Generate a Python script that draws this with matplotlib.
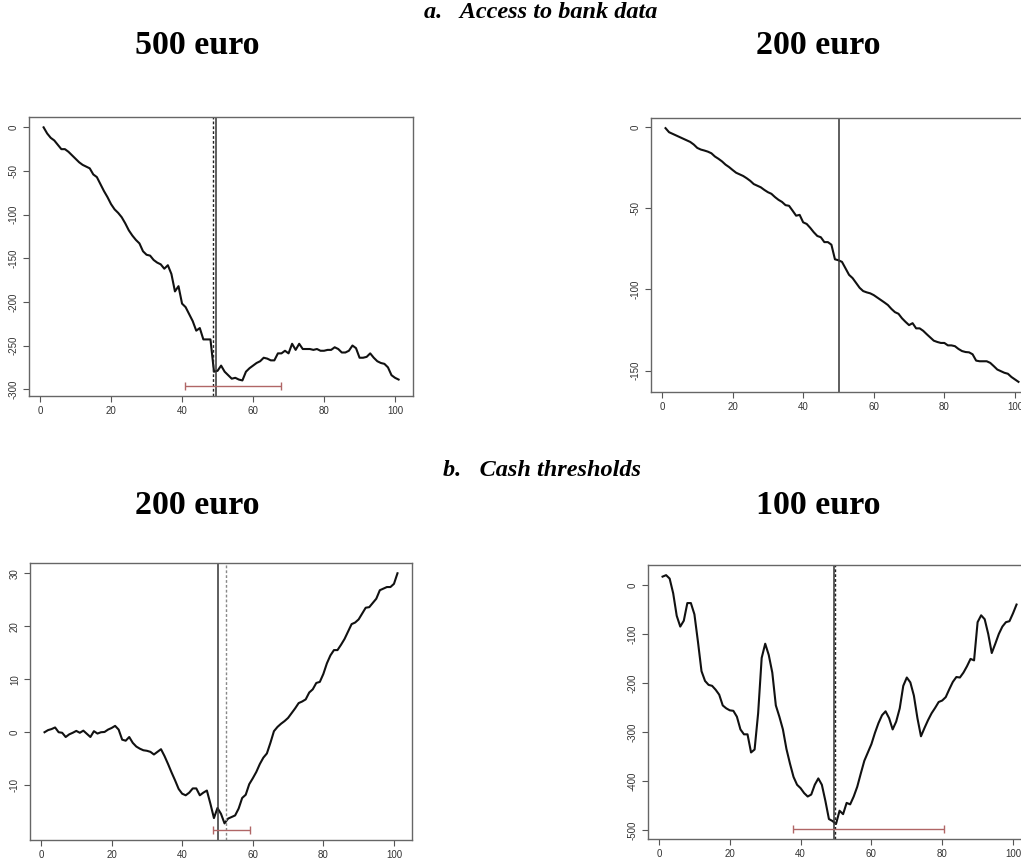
import matplotlib

matplotlib.use("Agg")
import matplotlib.pyplot as plt
import numpy as np

plt.rcParams["axes.unicode_minus"] = False

W, H = 1021, 860

# x positions are the observation index 1..101
X = np.arange(1, 102)

bank_500 = [
    0, -7, -12, -15, -20, -25, -25, -28, -32, -36,
    -40, -43, -45, -47, -54, -57, -65, -73, -80, -88,
    -94, -98, -103, -110, -118, -124, -129, -133, -142, -146,
    -147, -152, -155, -157, -162, -158, -168, -188, -182, -202,
    -206, -214, -222, -233, -230, -243, -243, -243, -280, -279,
    -273, -280, -284, -288, -287, -289, -290, -280, -276, -273,
    -270, -268, -264, -265, -267, -267, -259, -259, -256, -259,
    -248, -255, -248, -254, -254, -254, -255, -254, -256, -256,
    -255, -255, -252, -254, -258, -258, -256, -250, -253, -264,
    -264, -263, -259, -264, -268, -270, -271, -275, -284, -287,
    -289,
]

bank_200 = [
    -0.5, -3, -4, -5, -6, -7, -8, -9, -10.6, -12.7,
    -13.7, -14.3, -15, -16, -18, -19.4, -21, -23, -24.5, -26.3,
    -28, -29, -30, -31.4, -33, -35, -36, -37, -38.6, -40,
    -41, -43, -44.7, -46, -48, -48.4, -51.4, -54.5, -54, -58.6,
    -59.6, -62, -64.7, -67, -67.8, -70.8, -70.8, -72.4, -81.4, -82,
    -83, -87, -91, -93, -96, -99, -101, -101.8, -102.4, -103.5,
    -105, -106.5, -108, -109.6, -112, -114, -115, -117.8, -120, -122,
    -120.8, -124, -124, -125.5, -127.6, -129.6, -131.6, -132.4, -133, -133,
    -134.5, -134.5, -135, -136.7, -138, -138.6, -138.8, -140, -143.9, -144.3,
    -144.3, -144.3, -145.3, -147.3, -149.4, -150.4, -151.4, -152, -154, -155.5,
    -157,
]

cash_200 = [
    0, 0.4, 0.6, 0.9, 0, -0.1, -0.9, -0.4, -0.1, 0.25,
    -0.1, 0.3, -0.3, -0.9, 0.2, -0.25, 0, 0.05, 0.5, 0.8,
    1.2, 0.5, -1.4, -1.6, -0.9, -2, -2.7, -3.1, -3.4, -3.5,
    -3.7, -4.2, -3.7, -3.2, -4.5, -6, -7.6, -9.1, -10.7, -11.6,
    -11.9, -11.4, -10.6, -10.6, -11.9, -11.4, -11, -13.5, -16.2, -14.3,
    -15.4, -17.2, -16.3, -16, -15.7, -14.4, -12.4, -11.8, -9.8, -8.7,
    -7.5, -6, -4.8, -4, -2, 0.2, 1, 1.6, 2.1, 2.7,
    3.6, 4.5, 5.5, 5.8, 6.2, 7.5, 8.1, 9.3, 9.5, 11,
    13, 14.5, 15.5, 15.5, 16.5, 17.6, 19, 20.4, 20.7, 21.3,
    22.4, 23.5, 23.6, 24.4, 25.2, 26.8, 27.1, 27.4, 27.4, 28,
    30,
]

cash_100 = [
    17, 20, 13, -17, -63, -85, -73, -37, -37, -60,
    -116, -176, -196, -204, -206, -214, -224, -246, -252, -256,
    -257, -269, -295, -305, -305, -342, -336, -262, -149, -120,
    -143, -179, -246, -269, -295, -335, -365, -392, -408, -415,
    -425, -432, -428, -408, -395, -408, -441, -478, -482, -488,
    -461, -468, -445, -448, -432, -412, -385, -359, -342, -325,
    -302, -282, -266, -258, -272, -295, -279, -252, -206, -189,
    -199, -226, -272, -309, -292, -276, -262, -251, -239, -236,
    -229, -213, -198, -188, -189, -179, -166, -151, -154, -76,
    -62, -70, -100, -139, -120, -100, -85, -76, -74, -58,
    -40,
]

# estimated break points (solid / dotted) and confidence intervals
breaks_solid = [49.6, 50.1, 50.1, 49.5]
breaks_dotted = [48.7, None, 52.3, 49.7]
ci_bounds = [(40.8, 67.9, -296), None, (48.8, 59.2, -18.4), (37.8, 80.5, -498)]

x_ticks = [0, 20, 40, 60, 80, 100]
y_ticks = [
    [0, -50, -100, -150, -200, -250, -300],
    [0, -50, -100, -150],
    [-10, 0, 10, 20, 30],
    [0, -100, -200, -300, -400, -500],
]
series = [bank_500, bank_200, cash_200, cash_100]

# panel boxes in pixels: left, top, right, bottom
boxes = [
    (29.4, 117, 412.8, 396),
    (651.4, 118, 1032.6, 392),
    (30.4, 563, 411.6, 840),
    (648.4, 565, 1030.7, 839),
]

fig = plt.figure(figsize=(W / 100, H / 100), dpi=100)

for i, (l, t, r, b) in enumerate(boxes):
    ax = fig.add_axes([l / W, 1 - b / H, (r - l) / W, (b - t) / H])
    ax.plot(X, series[i], color="#111111", lw=1.5)
    ax.axvline(breaks_solid[i], color="#333333", lw=1.1)
    if breaks_dotted[i] is not None:
        dcol = "#888888" if i == 2 else "#222222"
        ax.axvline(breaks_dotted[i], color=dcol, lw=1.0, ls=(0, (2, 1.5)))
    if ci_bounds[i] is not None:
        lo, hi, yv = ci_bounds[i]
        ax.errorbar([(lo + hi) / 2], [yv], xerr=[[(hi - lo) / 2]], color="#b06666",
                    lw=1.0, capsize=3, capthick=1.0, fmt="none")
    ax.margins(x=0.04, y=0.04)
    ax.set_xlim(-3, 105)
    ax.set_xticks(x_ticks)
    ax.set_yticks(y_ticks[i])
    ax.tick_params(axis="both", labelsize=7, colors="#555555", labelcolor="#333333",
                   length=4, width=0.8, direction="out")
    ax.tick_params(axis="y", labelrotation=90)
    for lab in ax.get_xticklabels() + ax.get_yticklabels():
        lab.set_family("Liberation Sans")
    for lab in ax.get_yticklabels():
        lab.set_va("center")
    for sp in ax.spines.values():
        sp.set_color("#666666")
        sp.set_linewidth(1.0)

heading = dict(family="Liberation Serif", weight="bold", ha="center", va="center")
fig.text(541 / W, 1 - 13 / H, "a.   Access to bank data", style="italic", fontsize=17.5, **heading)
fig.text(197 / W, 1 - 46 / H, "500 euro", fontsize=24.5, **heading)
fig.text(818 / W, 1 - 46 / H, "200 euro", fontsize=24.5, **heading)
fig.text(542 / W, 1 - 470 / H, "b.   Cash thresholds", style="italic", fontsize=17.5, **heading)
fig.text(197 / W, 1 - 505 / H, "200 euro", fontsize=24.5, **heading)
fig.text(818 / W, 1 - 505 / H, "100 euro", fontsize=24.5, **heading)

fig.savefig("out.png", dpi=100)
